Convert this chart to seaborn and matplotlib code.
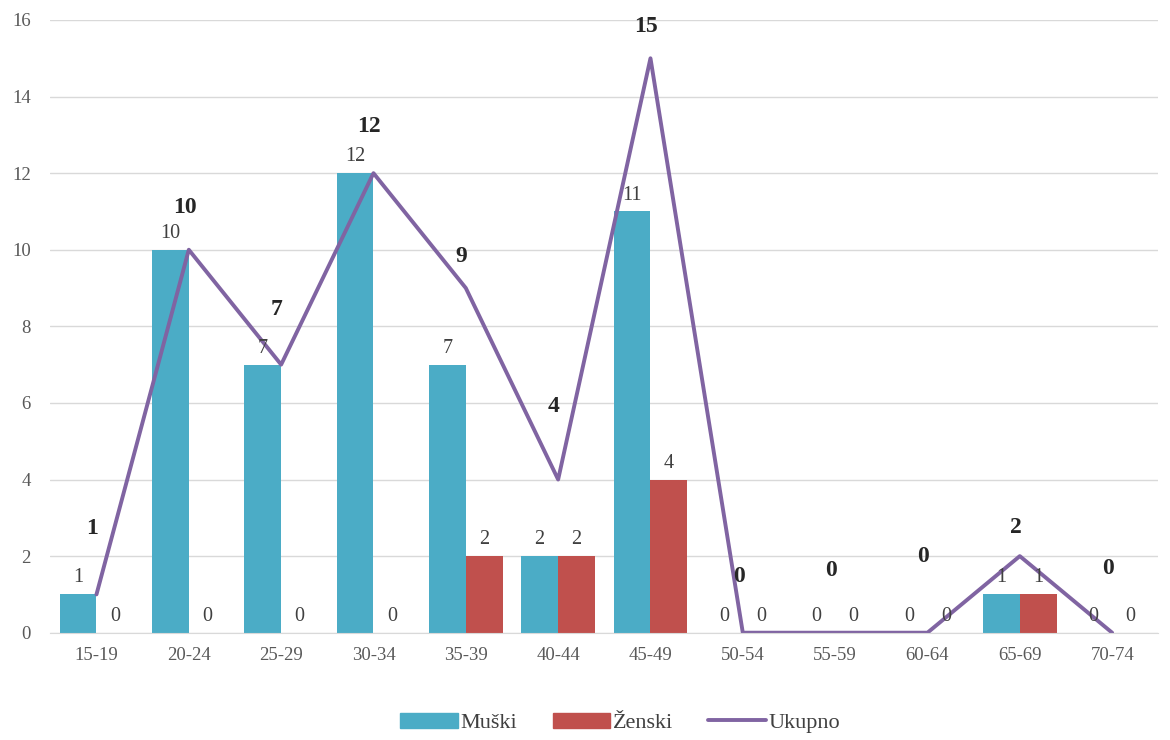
import numpy as np
import pandas as pd
import matplotlib
matplotlib.use("Agg")
import matplotlib.pyplot as plt
import seaborn as sns
from matplotlib.patches import Patch
from matplotlib.lines import Line2D

# ================================
# Data
# ================================
groups = ["15-19", "20-24", "25-29", "30-34", "35-39", "40-44",
          "45-49", "50-54", "55-59", "60-64", "65-69", "70-74"]
muski = [1, 10, 7, 12, 7, 2, 11, 0, 0, 0, 1, 0]
zenski = [0, 0, 0, 0, 2, 2, 4, 0, 0, 0, 1, 0]
ukupno = [1, 10, 7, 12, 9, 4, 15, 0, 0, 0, 2, 0]

# label offsets above the total line (points), hand placed like the original
total_offsets = [40, 23, 32, 26, 15, 45, 15, 33, 37, 47, 13, 39]

df = pd.DataFrame({
    "Dob": groups * 2,
    "Broj": muski + zenski,
    "Spol": ["Muški"] * len(groups) + ["Ženski"] * len(groups),
})

c_m = "#4bacc6"
c_z = "#c0504d"
c_u = "#8064a2"

sns.set_style("white")
plt.rcParams["font.family"] = ["Liberation Serif", "DejaVu Serif"]

fig = plt.figure(figsize=(11.7, 7.4), dpi=100)
ax = fig.add_axes([0.043, 0.145, 0.947, 0.828])

sns.barplot(data=df, x="Dob", y="Broj", hue="Spol", palette=[c_m, c_z],
            width=0.8, gap=0, ax=ax, legend=False, saturation=1, linewidth=0)

for cont in ax.containers:
    ax.bar_label(cont, fontsize=14.5, color="#404040", padding=5)

x = np.arange(len(groups))
sns.lineplot(x=x, y=ukupno, color=c_u, linewidth=2.8, ax=ax)

for xi, val, off in zip(x, ukupno, total_offsets):
    ax.annotate(str(val), (xi, val), xytext=(-3, off), textcoords="offset points",
                ha="center", va="bottom", fontsize=17, fontweight="bold", color="#262626")

ax.set_ylim(0, 16)
ax.set_yticks(range(0, 17, 2))
ax.set_xlim(-0.5, len(groups) - 0.5)
ax.set_xlabel("")
ax.set_ylabel("")
ax.grid(axis="y", color="#d9d9d9", linewidth=1)
ax.set_axisbelow(True)
for s in ["top", "right", "left"]:
    ax.spines[s].set_visible(False)
ax.spines["bottom"].set_color("#d9d9d9")
ax.tick_params(axis="both", length=0, colors="#595959", labelsize=13.5)
ax.tick_params(axis="x", pad=10)
ax.tick_params(axis="y", pad=14)

handles = [Patch(color=c_m, label="Muški"),
           Patch(color=c_z, label="Ženski"),
           Line2D([0], [0], color=c_u, linewidth=2.8, label="Ukupno")]
fig.legend(handles=handles, loc="center", bbox_to_anchor=(0.53, 0.023), ncol=3,
           frameon=False, fontsize=16, handlelength=2.6, handletextpad=0.1,
           columnspacing=1.6, labelcolor="#404040")

plt.savefig("out.png", dpi=100)
